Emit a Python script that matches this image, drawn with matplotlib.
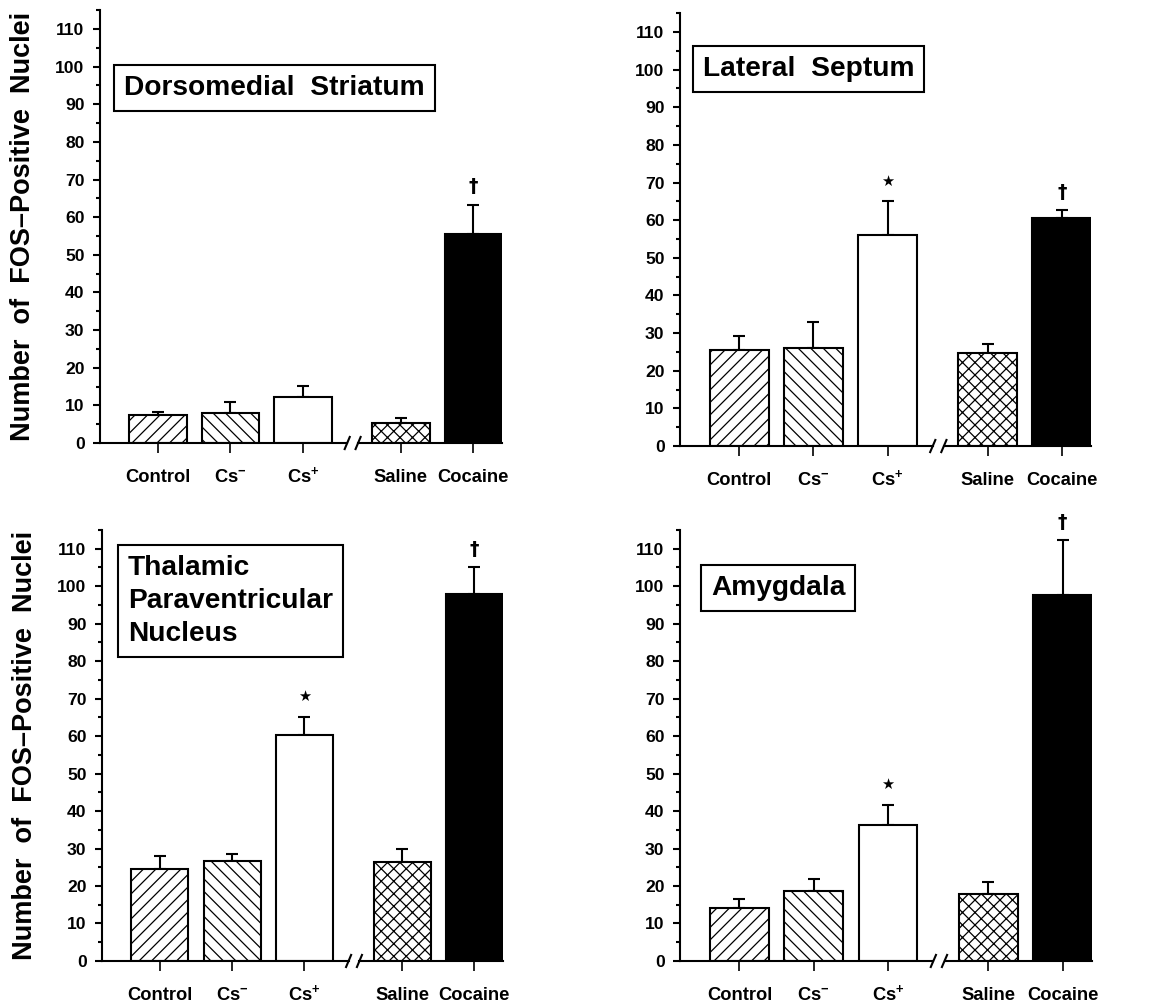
import numpy as np
import matplotlib
matplotlib.use("Agg")
import matplotlib.pyplot as plt
import matplotlib.transforms as mtransforms

# groups on the x axis
groups = ["Control", "Cs$^{-}$", "Cs$^{+}$", "Saline", "Cocaine"]

# mean number of FOS-positive nuclei, and the upper SEM, per region
regions = ["Dorsomedial  Striatum", "Lateral  Septum",
           "Thalamic\nParaventricular\nNucleus", "Amygdala"]

ds_mean = [7.4, 7.9, 12.3, 5.2, 55.4]
ds_err = [0.8, 2.9, 2.9, 1.5, 7.9]

ls_mean = [25.4, 26.0, 56.1, 24.6, 60.5]
ls_err = [3.9, 6.9, 8.9, 2.4, 2.1]

pvt_mean = [24.6, 26.8, 60.4, 26.3, 98.0]
pvt_err = [3.3, 1.8, 4.7, 3.5, 7.1]

amy_mean = [14.2, 18.6, 36.2, 18.0, 97.7]
amy_err = [2.3, 3.2, 5.4, 3.0, 14.5]

# significance marks (star: Cs+ vs control, dagger: cocaine vs saline)
ds_marks = ["", "", "", "", "\u2020"]
ls_marks = ["", "", "\u2605", "", "\u2020"]
pvt_marks = ["", "", "\u2605", "", "\u2020"]
amy_marks = ["", "", "\u2605", "", "\u2020"]

plt.rcParams['font.family'] = ['Liberation Sans', 'DejaVu Sans']
plt.rcParams['mathtext.fontset'] = 'custom'
plt.rcParams['mathtext.rm'] = 'Liberation Sans:bold'
plt.rcParams['mathtext.default'] = 'rm'
plt.rcParams['hatch.linewidth'] = 0.6

hatches = ['////', '\\\\\\\\', '', 'xxxx', '']
fills = ['white', 'white', 'white', 'white', 'black']
positions = [0, 1, 2, 3.35, 4.35]
bar_w = 0.79
x_left = -0.8
x_right = positions[-1] + bar_w / 2
brk = (2.61, 2.76)

def draw_panel(ax, means, errs, marks, title, title_xy, show_ylabel):
    ax.bar(positions, means, width=bar_w, color=fills, edgecolor='black',
           hatch=hatches, linewidth=1.0, zorder=2)
    ax.errorbar(positions, means, yerr=[np.zeros(len(errs)), errs], fmt='none',
                ecolor='black', elinewidth=1.0, capsize=3, capthick=1.0, zorder=1)
    for x, m, e, s in zip(positions, means, errs, marks):
        if s == "\u2605":
            ax.text(x, m + e + 5.4, s, ha='center', va='center', fontsize=7,
                    family=['DejaVu Sans'], clip_on=False)
        elif s:
            ax.text(x, m + e + 4.8, s, ha='center', va='center', fontsize=9,
                    fontweight='bold', family=['DejaVu Sans'], clip_on=False)

    ax.set_xlim(x_left, x_right)
    ax.set_ylim(0, 115)
    ax.set_yticks(np.arange(0, 111, 10))
    ax.set_yticks(np.arange(5, 116, 5), minor=True)
    ax.set_xticks(positions)
    ax.set_xticklabels(groups, fontsize=8.8, fontweight='bold')
    for lab in ax.get_xticklabels():
        lab.set_verticalalignment('baseline')
    for lab in ax.get_yticklabels():
        lab.set_fontsize(8.4)
        lab.set_fontweight('bold')
    ax.tick_params(axis='y', which='major', length=3.4, width=1.0, pad=4)
    ax.tick_params(axis='y', which='minor', length=1.8, width=1.0)
    ax.tick_params(axis='x', length=4.8, width=0.8, pad=14)

    for sp in ['top', 'right', 'bottom']:
        ax.spines[sp].set_visible(False)
    ax.spines['left'].set_linewidth(1.0)

    # x axis drawn in two pieces with a break
    tr = mtransforms.blended_transform_factory(ax.transData, ax.transAxes)
    ax.plot([x_left, brk[0]], [0, 0], color='black', lw=1.0, transform=tr,
            clip_on=False, zorder=3)
    ax.plot([brk[1], x_right], [0, 0], color='black', lw=1.0, transform=tr,
            clip_on=False, zorder=3)
    for bx in brk:
        ax.plot([bx - 0.035, bx + 0.035], [-0.014, 0.014], color='black',
                lw=1.0, transform=tr, clip_on=False, zorder=3)

    ax.text(title_xy[0], title_xy[1], title, transform=ax.transAxes,
            ha='left', va='center', fontsize=13.5, fontweight='bold',
            linespacing=1.35,
            bbox=dict(boxstyle='square,pad=0.35', fc='white', ec='black', lw=1.0))

    if show_ylabel:
        ax.set_ylabel("Number  of  FOS\u2013Positive  Nuclei", fontsize=13,
                      fontweight='bold')
        ax.yaxis.set_label_coords(-0.16, 0.5)


fig = plt.figure(figsize=(1170 / 150, 1003 / 150), dpi=150)

ax1 = fig.add_axes([100 / 1170, 0.5583, 402 / 1170, 0.4316])
ax2 = fig.add_axes([680 / 1170, 0.5553, 411 / 1170, 0.4316])
ax3 = fig.add_axes([102 / 1170, 0.0419, 401 / 1170, 0.4297])
ax4 = fig.add_axes([680 / 1170, 0.0419, 412 / 1170, 0.4297])

draw_panel(ax1, ds_mean, ds_err, ds_marks, regions[0], (0.06, 0.82), True)
draw_panel(ax2, ls_mean, ls_err, ls_marks, regions[1], (0.056, 0.871), False)
draw_panel(ax3, pvt_mean, pvt_err, pvt_marks, regions[2], (0.065, 0.835), True)
draw_panel(ax4, amy_mean, amy_err, amy_marks, regions[3], (0.075, 0.865), False)

fig.savefig("out.png", dpi=150, facecolor='white')
